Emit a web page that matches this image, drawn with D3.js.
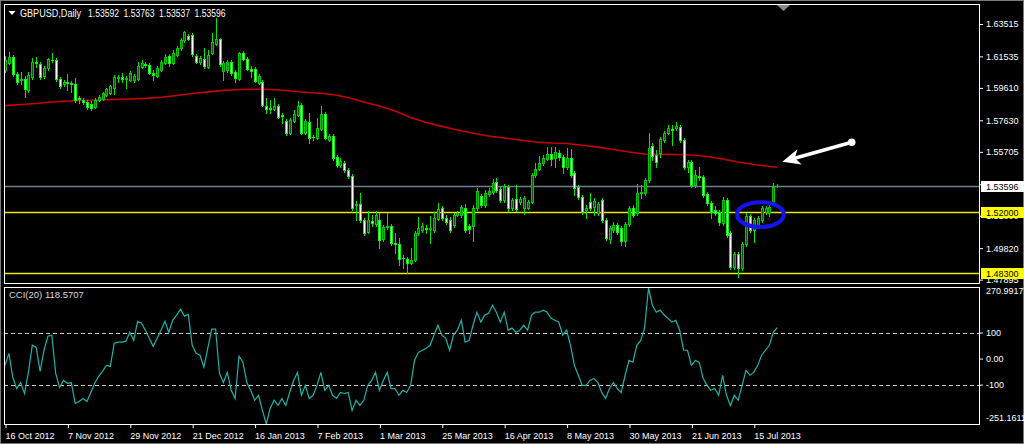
<!DOCTYPE html>
<html><head><meta charset="utf-8">
<script src="https://cdn.jsdelivr.net/npm/d3@7"></script>
<style>html,body{margin:0;padding:0;background:#000;overflow:hidden}
text{font-family:'Liberation Sans',Arial,sans-serif;font-size:9px}</style>
</head><body>
<svg id="c" width="1024" height="444"></svg>
<script>
// ---- data (GBPUSD daily, 16 Oct 2012 .. 22 Jul 2013) ----
const symbolTitle = "GBPUSD,Daily";
const openP = [
1.6070,1.6113,1.6150,1.6046,1.6009,1.6015,1.5948,1.6027,1.6119,1.6107,
1.6033,1.6082,1.6133,1.6131,1.6015,1.5985,1.5997,1.5991,1.5985,1.5899,
1.5887,1.5875,1.5863,1.5844,1.5887,1.5893,1.5917,1.5930,1.5960,1.6021,
1.6027,1.6018,1.6009,1.6009,1.6015,1.6088,1.6107,1.6100,1.6052,1.6033,
1.6070,1.6113,1.6156,1.6113,1.6162,1.6205,1.6254,1.6278,1.6284,1.6156,
1.6119,1.6138,1.6088,1.6175,1.6230,1.6260,1.6064,1.6070,1.6119,1.6058,
1.6015,1.6175,1.6138,1.6076,1.6076,1.5991,1.5997,1.5850,1.5838,1.5832,
1.5850,1.5795,1.5759,1.5686,1.5759,1.5795,1.5856,1.5686,1.5753,1.5661,
1.5655,1.5710,1.5802,1.5643,1.5667,1.5539,1.5489,1.5502,1.5459,1.5422,
1.5245,1.5252,1.5154,1.5081,1.5148,1.5130,1.5154,1.5038,1.5111,1.5117,
1.5014,1.5008,1.4922,1.4916,1.4892,1.4910,1.5075,1.5093,1.5105,1.5099,
1.5093,1.5160,1.5227,1.5166,1.5154,1.5124,1.5185,1.5185,1.5227,1.5117,
1.5117,1.5227,1.5300,1.5245,1.5313,1.5325,1.5386,1.5343,1.5276,1.5355,
1.5227,1.5282,1.5264,1.5227,1.5227,1.5264,1.5428,1.5465,1.5502,1.5527,
1.5557,1.5533,1.5563,1.5539,1.5477,1.5533,1.5441,1.5355,1.5294,1.5215,
1.5264,1.5233,1.5197,1.5276,1.5154,1.5038,1.5093,1.5124,1.5105,1.5026,
1.5130,1.5227,1.5197,1.5319,1.5319,1.5398,1.5606,1.5551,1.5563,1.5643,
1.5686,1.5710,1.5716,1.5722,1.5643,1.5477,1.5508,1.5367,1.5422,1.5416,
1.5313,1.5258,1.5215,1.5203,1.5136,1.5276,1.5075,1.4867,1.4947,1.4861,
1.5008,1.5178,1.5093,1.5117,1.5154,1.5203,1.5197,1.5258,1.53592];
const highP = [
1.6156,1.6181,1.6162,1.6058,1.6058,1.6033,1.6058,1.6144,1.6150,1.6119,
1.6094,1.6143,1.6175,1.6143,1.6027,1.6009,1.6046,1.6003,1.6021,1.5911,
1.5899,1.5887,1.5881,1.5899,1.5917,1.5936,1.5960,1.5978,1.6039,1.6039,
1.6052,1.6033,1.6064,1.6046,1.6119,1.6131,1.6119,1.6113,1.6070,1.6094,
1.6131,1.6168,1.6168,1.6193,1.6217,1.6266,1.6309,1.6291,1.6297,1.6168,
1.6156,1.6205,1.6193,1.6297,1.6388,1.6266,1.6125,1.6131,1.6131,1.6070,
1.6181,1.6187,1.6150,1.6094,1.6088,1.6046,1.6009,1.5899,1.5887,1.5899,
1.5863,1.5808,1.5771,1.5777,1.5826,1.5881,1.5869,1.5771,1.5808,1.5673,
1.5777,1.5850,1.5814,1.5680,1.5680,1.5551,1.5533,1.5514,1.5471,1.5434,
1.5270,1.5319,1.5166,1.5209,1.5185,1.5209,1.5197,1.5124,1.5197,1.5130,
1.5075,1.5044,1.4940,1.4928,1.4983,1.5087,1.5172,1.5136,1.5124,1.5178,
1.5203,1.5258,1.5239,1.5185,1.5172,1.5197,1.5209,1.5245,1.5252,1.5130,
1.5245,1.5349,1.5313,1.5337,1.5349,1.5404,1.5410,1.5355,1.5374,1.5368,
1.5288,1.5368,1.5294,1.5300,1.5276,1.5441,1.5502,1.5545,1.5551,1.5600,
1.5600,1.5600,1.5582,1.5551,1.5594,1.5588,1.5453,1.5368,1.5306,1.5245,
1.5319,1.5288,1.5264,1.5288,1.5166,1.5117,1.5142,1.5136,1.5117,1.5142,
1.5239,1.5245,1.5374,1.5368,1.5410,1.5686,1.5625,1.5582,1.5661,1.5698,
1.5734,1.5734,1.5753,1.5734,1.5655,1.5520,1.5520,1.5459,1.5477,1.5428,
1.5325,1.5270,1.5239,1.5215,1.5294,1.5288,1.5087,1.4959,1.4959,1.5020,
1.5197,1.5191,1.5166,1.5178,1.5239,1.5239,1.5252,1.5380,1.53763];
const lowP = [
1.6058,1.6107,1.6033,1.5985,1.5985,1.5905,1.5936,1.6015,1.6088,1.6015,
1.6021,1.6070,1.6119,1.6003,1.5960,1.5972,1.5948,1.5936,1.5875,1.5869,
1.5863,1.5832,1.5826,1.5838,1.5881,1.5887,1.5911,1.5924,1.5924,1.5997,
1.5997,1.5960,1.6003,1.5997,1.6009,1.6082,1.6088,1.6046,1.6009,1.6027,
1.6064,1.6107,1.6094,1.6107,1.6156,1.6193,1.6242,1.6254,1.6156,1.6113,
1.6107,1.6082,1.6082,1.6168,1.6223,1.6094,1.6009,1.6058,1.6039,1.5997,
1.6009,1.6131,1.6070,1.6027,1.5997,1.5985,1.5850,1.5808,1.5808,1.5826,
1.5777,1.5747,1.5673,1.5680,1.5753,1.5789,1.5680,1.5680,1.5625,1.5643,
1.5649,1.5704,1.5649,1.5637,1.5520,1.5477,1.5477,1.5447,1.5410,1.5215,
1.5154,1.5142,1.5062,1.5075,1.5117,1.5117,1.4983,1.5026,1.5099,1.5001,
1.4953,1.4879,1.4861,1.4830,1.4886,1.4904,1.5062,1.5081,1.5075,1.5014,
1.5081,1.5154,1.5154,1.5130,1.5081,1.5111,1.5178,1.5172,1.5081,1.5075,
1.5026,1.5215,1.5233,1.5233,1.5300,1.5313,1.5325,1.5264,1.5264,1.5209,
1.5215,1.5209,1.5252,1.5191,1.5221,1.5258,1.5416,1.5459,1.5489,1.5520,
1.5489,1.5477,1.5520,1.5441,1.5465,1.5416,1.5306,1.5282,1.5191,1.5166,
1.5215,1.5185,1.5185,1.5142,1.5032,1.5014,1.5081,1.5069,1.5001,1.4995,
1.5117,1.5172,1.5185,1.5288,1.5306,1.5386,1.5520,1.5477,1.5539,1.5631,
1.5680,1.5612,1.5704,1.5631,1.5465,1.5447,1.5355,1.5355,1.5398,1.5294,
1.5245,1.5166,1.5185,1.5124,1.5124,1.5050,1.4855,1.4855,1.4805,1.4848,
1.4995,1.5081,1.5020,1.5105,1.5142,1.5191,1.5178,1.5245,1.53537];
const closeP = [
1.6131,1.6150,1.6046,1.5997,1.6015,1.5954,1.6039,1.6119,1.6115,1.6027,
1.6082,1.6138,1.6129,1.6015,1.5972,1.5997,1.5991,1.5985,1.5887,1.5893,
1.5875,1.5844,1.5838,1.5887,1.5905,1.5930,1.5954,1.5972,1.6027,1.6027,
1.6015,1.6021,1.6052,1.6033,1.6094,1.6113,1.6100,1.6052,1.6039,1.6082,
1.6119,1.6150,1.6113,1.6175,1.6205,1.6254,1.6303,1.6260,1.6168,1.6119,
1.6144,1.6094,1.6162,1.6242,1.6260,1.6107,1.6113,1.6119,1.6052,1.6021,
1.6175,1.6138,1.6076,1.6064,1.6003,1.6033,1.5856,1.5832,1.5835,1.5850,
1.5783,1.5789,1.5686,1.5765,1.5802,1.5850,1.5686,1.5759,1.5655,1.5658,
1.5716,1.5802,1.5655,1.5667,1.5533,1.5489,1.5514,1.5459,1.5422,1.5227,
1.5252,1.5154,1.5075,1.5154,1.5136,1.5185,1.5032,1.5111,1.5117,1.5014,
1.5008,1.4916,1.4919,1.4892,1.4910,1.5075,1.5105,1.5117,1.5099,1.5102,
1.5166,1.5221,1.5166,1.5142,1.5093,1.5185,1.5197,1.5233,1.5093,1.5099,
1.5227,1.5331,1.5245,1.5319,1.5331,1.5380,1.5337,1.5276,1.5355,1.5227,
1.5276,1.5221,1.5282,1.5288,1.5264,1.5428,1.5465,1.5502,1.5533,1.5557,
1.5527,1.5570,1.5539,1.5477,1.5533,1.5428,1.5349,1.5294,1.5203,1.5227,
1.5227,1.5270,1.5252,1.5154,1.5044,1.5105,1.5124,1.5081,1.5026,1.5130,
1.5227,1.5185,1.5319,1.5325,1.5398,1.5594,1.5545,1.5508,1.5649,1.5686,
1.5716,1.5704,1.5728,1.5643,1.5477,1.5508,1.5367,1.5428,1.5416,1.5306,
1.5258,1.5203,1.5197,1.5142,1.5276,1.5062,1.4867,1.4947,1.4861,1.5008,
1.5178,1.5093,1.5154,1.5166,1.5227,1.5227,1.5233,1.5355,1.53596];
// 200-day moving average (red), sampled bars
const maIndex = [0,4,8,12,16,20,24,28,32,36,40,44,48,52,56,60,64,68,72,76,80,84,88,92,96,
  100,104,108,112,116,120,124,128,132,136,140,144,148,152,156,160,164,168,172,176,180,184,188,192,196,198];
const maValues = [1.5853,1.5860,1.5866,1.5875,1.5881,1.5884,1.5887,1.5890,1.5893,1.5897,
  1.5904,1.5915,1.5927,1.5937,1.5946,1.5951,1.5953,1.5951,1.5945,1.5936,
  1.5930,1.5921,1.5902,1.5875,1.5850,1.5820,1.5780,1.5750,1.5726,1.5704,
  1.5684,1.5667,1.5655,1.5643,1.5630,1.5624,1.5621,1.5611,1.5599,1.5585,
  1.5569,1.5557,1.5555,1.5554,1.5551,1.5542,1.5527,1.5508,1.5493,1.5481,1.5476];
// CCI(20)
const cciValues = [
-26,20,-72,-115,-92,-134,-53,51,43,-49,
32,86,90,-57,-111,-84,-95,-92,-172,-165,
-153,-165,-130,-95,-68,-49,-26,-30,59,63,
63,67,101,70,143,136,109,78,47,78,
109,143,101,147,167,190,163,170,51,20,
13,-33,40,113,113,-57,-92,-53,-122,-153,
9,-14,-92,-122,-160,-141,-199,-251.1611,-191,-160,
-180,-153,-180,-130,-84,-53,-141,-103,-153,-141,
-103,-53,-122,-103,-141,-153,-130,-134,-130,-199,
-160,-180,-160,-103,-84,-53,-122,-84,-53,-115,
-115,-141,-122,-130,-103,-7,24,32,40,51,
90,128,90,78,32,90,109,147,63,70,
128,178,140,167,174,205,178,140,178,109,
117,101,109,128,109,167,178,178,186,178,
155,147,140,90,109,51,-26,-64,-103,-103,
-84,-76,-92,-130,-153,-115,-92,-115,-130,-64,
-7,-14,51,70,117,270.9917,205,178,186,167,
155,140,147,109,32,32,-26,-7,-14,-76,
-103,-122,-115,-141,-64,-141,-180,-141,-160,-103,
-45,-64,-53,-26,13,32,51,101,118.5707];
const cciLevels = [100, -100];
const cciTickValues = [270.9917, 100, 0, -100, -251.1611];
const cciTickLabels = ["270.9917", "100", "0.00", "-100", "-251.1611"];
const dateTickIndex = [0,16,32,48,64,80,96,112,128,144,160,176,192];
const dateTickLabels = ["16 Oct 2012","7 Nov 2012","29 Nov 2012","21 Dec 2012","16 Jan 2013","7 Feb 2013",
  "1 Mar 2013","25 Mar 2013","16 Apr 2013","8 May 2013","30 May 2013","21 Jun 2013","15 Jul 2013"];
const priceTicks = [1.63515,1.61535,1.59610,1.57630,1.55705,1.53725,1.51800,1.49820,1.47895];
const priceRange = [1.47689, 1.64676];
const bidLine = [1.53596];
const levelLines = [1.52000, 1.48300];
// annotations: ellipse (bar index, price, half-width in bars, half-height in price), arrow (from, to)
const ellipseAnno = [193.7, 1.5187, 6.0, 0.0076];
const arrowFrom = [217.1, 1.5629];
const arrowTo = [199.3, 1.5510];

// ---- layout ----
const svg = d3.select('#c');
const L = 4, R = 979, pTop = 4, pBot = 283, cTop = 287, cBot = 424;
const FONT = "'Liberation Sans',Arial,sans-serif";
const x = d3.scaleLinear().domain([0, 198]).range([5, 777.2]);
const yP = d3.scaleLinear().domain(priceRange).range([283, 5]);
const yC = d3.scaleLinear().domain([cciTickValues[4], cciTickValues[0]]).range([424, 288]);

svg.append('rect').attr('width',1024).attr('height',444).attr('fill','#000');
svg.append('rect').attr('x',0.5).attr('y',0.5).attr('width',1023).attr('height',443).attr('fill','none').attr('stroke','#7a7a7a');

const defs = svg.append('defs');
defs.append('clipPath').attr('id','cp').append('rect').attr('x',L+1).attr('y',pTop+1).attr('width',R-L-1).attr('height',pBot-pTop-1);
defs.append('clipPath').attr('id','cc').append('rect').attr('x',L+1).attr('y',cTop+1).attr('width',R-L-1).attr('height',cBot-cTop-1);

const gp = svg.append('g').attr('clip-path','url(#cp)');
// horizontal lines
gp.selectAll('line.bid').data(bidLine).join('line').attr('x1',L).attr('x2',R)
  .attr('y1',d=>Math.round(yP(d))+0.5).attr('y2',d=>Math.round(yP(d))+0.5).attr('stroke','#6f7f8c').attr('stroke-width',1.5);
gp.selectAll('line.lvl').data(levelLines).join('line').attr('x1',L).attr('x2',R)
  .attr('y1',d=>Math.round(yP(d))+0.5).attr('y2',d=>Math.round(yP(d))+0.5).attr('stroke','#e8e800').attr('stroke-width',1.5);

// moving average
const maPts = maIndex.map((b,k)=>[b, maValues[k]]);
gp.append('path').datum(maPts).attr('fill','none').attr('stroke','#c80000').attr('stroke-width',1.6)
  .attr('d', d3.line().x(d=>x(d[0])).y(d=>yP(d[1])));

// candles
const bars = closeP.map((c,i)=>({i, o:openP[i], h:highP[i], l:lowP[i], c}));
const cg = gp.append('g').attr('shape-rendering','crispEdges');
cg.selectAll('line').data(bars).join('line')
  .attr('x1',d=>Math.round(x(d.i))+0.5).attr('x2',d=>Math.round(x(d.i))+0.5)
  .attr('y1',d=>Math.round(yP(d.h))).attr('y2',d=>Math.round(yP(d.l))+1)
  .attr('stroke','#00e800').attr('stroke-width',1);
function bodyTop(d){return Math.round(yP(Math.max(d.o,d.c)));}
function bodyH(d){return Math.max(1, Math.round(yP(Math.min(d.o,d.c))) - bodyTop(d) + 1);}
cg.selectAll('rect.b').data(bars).join('rect').attr('class','b')
  .attr('x',d=>Math.round(x(d.i))-1).attr('width',3)
  .attr('y',bodyTop).attr('height',bodyH).attr('fill',d=>d.c>=d.o ? '#00c800' : '#00ff00');
cg.selectAll('rect.f').data(bars.filter(d=>bodyH(d)>2)).join('rect').attr('class','f')
  .attr('x',d=>Math.round(x(d.i))).attr('width',1)
  .attr('y',d=>bodyTop(d)+1).attr('height',d=>bodyH(d)-2)
  .attr('fill',d=>d.c>=d.o ? '#0a5a0a' : '#ffffff');

// annotations
const ex = x(ellipseAnno[0]), ey = yP(ellipseAnno[1]);
const erx = x(ellipseAnno[0]+ellipseAnno[2]) - ex, ery = yP(ellipseAnno[1]-ellipseAnno[3]) - ey;
svg.append('ellipse').attr('cx',ex).attr('cy',ey).attr('rx',erx).attr('ry',ery)
  .attr('fill','none').attr('stroke','#1414f0').attr('stroke-width',4);
const ax0 = x(arrowFrom[0]), ay0 = yP(arrowFrom[1]), ax1 = x(arrowTo[0]), ay1 = yP(arrowTo[1]);
const dx = ax0-ax1, dy = ay0-ay1, len = Math.hypot(dx,dy), ux = dx/len, uy = dy/len, px = -uy, py = ux;
const headL = 18, headW = 8;
svg.append('line').attr('x1',ax0).attr('y1',ay0).attr('x2',ax1+ux*12).attr('y2',ay1+uy*12)
  .attr('stroke','#fff').attr('stroke-width',3.5);
svg.append('polygon').attr('points',[
  [ax1,ay1],[ax1+ux*headL+px*headW, ay1+uy*headL+py*headW],[ax1+ux*13, ay1+uy*13],
  [ax1+ux*headL-px*headW, ay1+uy*headL-py*headW]].map(p=>p.join(',')).join(' ')).attr('fill','#fff');
svg.append('circle').attr('cx',ax0).attr('cy',ay0).attr('r',3.8).attr('fill','#fff');

// price axis
const pa = svg.append('g').attr('transform',`translate(${R},0)`)
  .call(d3.axisRight(yP).tickValues(priceTicks).tickFormat(d3.format('.5f')).tickSize(4).tickPadding(3));
pa.select('.domain').remove();
pa.selectAll('line').attr('stroke','#fff');
pa.selectAll('text').attr('fill','#fff').style('font-size','9px').style('font-family',FONT);

// price boxes
const boxes = [{v:bidLine[0], bg:'#ffffff'}, {v:levelLines[0], bg:'#ffff00'}, {v:levelLines[1], bg:'#ffff00'}];
const bx = svg.append('g');
bx.selectAll('rect').data(boxes).join('rect').attr('x',R+2).attr('width',1024-R-2)
  .attr('y',d=>Math.round(yP(d.v))-5).attr('height',11).attr('fill',d=>d.bg);
bx.selectAll('text').data(boxes).join('text').attr('x',R+7).attr('y',d=>Math.round(yP(d.v))+3.5)
  .attr('fill','#000').text(d=>d3.format('.5f')(d.v));

// CCI panel
const gc = svg.append('g').attr('clip-path','url(#cc)');
gc.selectAll('line.lv').data(cciLevels).join('line').attr('x1',L).attr('x2',R)
  .attr('y1',d=>Math.round(yC(d))+0.5).attr('y2',d=>Math.round(yC(d))+0.5)
  .attr('stroke','#c8c8c8').attr('stroke-dasharray','4,3').attr('stroke-width',1);
gc.append('path').datum(cciValues).attr('fill','none').attr('stroke','#20b2aa').attr('stroke-width',1.2)
  .attr('d', d3.line().x((d,i)=>x(i)).y(d=>yC(d)));

const ca = svg.append('g').attr('transform',`translate(${R},0)`)
  .call(d3.axisRight(yC).tickValues(cciTickValues).tickFormat((d,i)=>cciTickLabels[i]).tickSize(4).tickPadding(3));
ca.select('.domain').remove();
ca.selectAll('line').attr('stroke','#fff');
ca.selectAll('.tick').filter((d,i)=>i===0||i===4).select('line').remove();
ca.selectAll('.tick').filter((d,i)=>i===0).select('text').attr('dy','1.1em').attr('y',-4);
ca.selectAll('.tick').filter((d,i)=>i===4).select('text').attr('dy','-0.35em').attr('y',0);
ca.selectAll('text').attr('fill','#fff').style('font-size','9px').style('font-family',FONT);

// frames
svg.append('rect').attr('x',L+0.5).attr('y',pTop+0.5).attr('width',R-L).attr('height',pBot-pTop).attr('fill','none').attr('stroke','#fff');
svg.append('rect').attr('x',L+0.5).attr('y',cTop+0.5).attr('width',R-L).attr('height',cBot-cTop).attr('fill','none').attr('stroke','#fff');
// shift marker
svg.append('polygon').attr('points','777,5 790,5 783.5,11').attr('fill','#8a8a8a');

// time axis
const ta = svg.append('g').attr('transform',`translate(0,${cBot})`)
  .call(d3.axisBottom(x).tickValues(dateTickIndex).tickFormat((d,i)=>dateTickLabels[i]).tickSize(4).tickPadding(4));
ta.select('.domain').remove();
ta.selectAll('line').attr('stroke','#fff').attr('transform','translate(0.5,0)');
ta.selectAll('text').attr('fill','#fff').attr('text-anchor','start').attr('x',0).attr('dy','0.75em')
  .style('font-size','9px').style('font-family',FONT);

// titles
const last = bars[bars.length-1];
const titleParts = [symbolTitle, d3.format('.5f')(last.o), d3.format('.5f')(last.h), d3.format('.5f')(last.l), d3.format('.5f')(last.c)];
const titleX = [20, 88, 123.5, 159, 194.5];
const titleW = [61, 31, 31, 31, 31];
svg.append('polygon').attr('points','8.5,11 15.5,11 12,15').attr('fill','#fff');
svg.selectAll('text.ttl').data(titleParts).join('text').attr('class','ttl')
  .attr('x',(d,i)=>titleX[i]).attr('y',16.5).attr('fill','#fff').style('font-size','10px')
  .attr('textLength',(d,i)=>titleW[i]).attr('lengthAdjust','spacingAndGlyphs').text(d=>d);
svg.append('text').attr('x',9).attr('y',298).attr('fill','#d8d8d8').style('font-size','9.5px')
  .text(`CCI(20) ${cciValues[cciValues.length-1].toFixed(4)}`);
</script>
</body></html>
